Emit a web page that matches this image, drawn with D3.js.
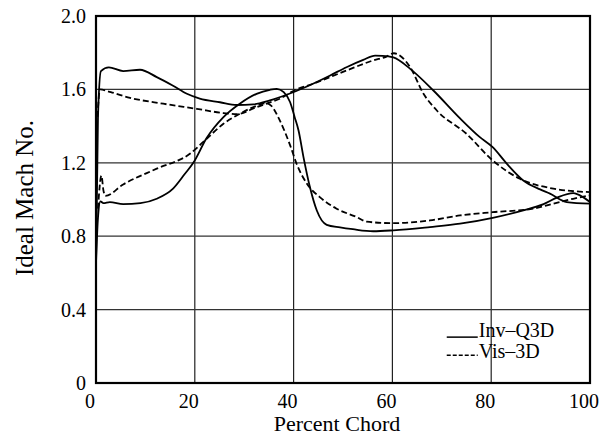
<!DOCTYPE html>
<html>
<head>
<meta charset="utf-8">
<script src="https://cdn.jsdelivr.net/npm/d3@7"></script>
<style>
  body { margin: 0; background: white; }
  text { font-family: "Liberation Serif", "Times New Roman", serif; fill: black; }
</style>
</head>
<body>
<div id="chart"></div>
<script>
// Percent chord vs ideal Mach number, [x, M] pairs
const invUpper = [[0,0.65],[0.4,1.45],[1.0,1.70],[2.6,1.72],[5.5,1.70],[8.9,1.707],[12.3,1.667],[15.6,1.62],[18.4,1.576],[21,1.55],[25.1,1.53],[28.5,1.515],[31.8,1.518],[35.2,1.54],[38.6,1.571],[42.7,1.616],[47.4,1.676],[50.7,1.721],[54.1,1.761],[56.5,1.784],[58,1.783],[60.2,1.774],[63.6,1.712],[68.3,1.594],[73.7,1.442],[77.7,1.34],[80.3,1.285],[83.1,1.197],[86.5,1.104],[89.9,1.055],[91.9,1.032],[95.3,0.986],[100,0.977]];
const invLower = [[0,0.65],[0.4,0.9],[0.9,0.99],[1.5,0.98],[2.8,0.986],[5.5,0.975],[9,0.98],[12.3,1.004],[15.6,1.059],[18,1.14],[19.7,1.2],[22.4,1.335],[25.8,1.449],[29.1,1.522],[32.5,1.576],[35.2,1.598],[36.6,1.603],[38,1.585],[39.3,1.53],[40.2,1.45],[41,1.376],[42,1.231],[43.3,1.068],[44.7,0.94],[46.7,0.862],[49.4,0.848],[52,0.838],[56.1,0.827],[60.2,0.832],[67.6,0.85],[73.7,0.868],[80.3,0.9],[86.5,0.941],[90.6,0.975],[93.3,1.01],[96.6,1.035],[98.6,1.013],[100,0.986]];
const visUpper = [[0.3,1.45],[0.8,1.6],[3,1.585],[6.9,1.554],[13.6,1.522],[20.4,1.494],[25.8,1.471],[28.5,1.465],[32.5,1.503],[34.8,1.525],[37.2,1.549],[40.1,1.594],[44,1.631],[50.7,1.703],[56.1,1.758],[58.8,1.779],[60.3,1.797],[63.6,1.721],[66.3,1.576],[69,1.485],[75,1.358],[80.3,1.213],[85.8,1.113],[92.6,1.059],[100,1.04]];
const visLower = [[0.4,0.95],[1.1,1.13],[1.5,1.05],[1.9,1.02],[5.5,1.082],[12.3,1.168],[19,1.249],[22.4,1.331],[25.8,1.413],[29.1,1.467],[32,1.505],[34.5,1.525],[35.5,1.51],[37.2,1.431],[39.3,1.295],[40.6,1.195],[42.7,1.086],[45.3,1.013],[48.7,0.95],[52.8,0.904],[54.8,0.879],[60.2,0.871],[67.6,0.886],[73.7,0.913],[80.3,0.931],[88.5,0.95],[92.6,0.977],[96.6,1.004],[100,1.022]];

const xTicks = [0, 20, 40, 60, 80, 100];
const yTicks = [0, 0.4, 0.8, 1.2, 1.6, 2.0];
const seriesNames = ['Inv\u2013Q3D', 'Vis\u20133D'];

const margin = { top: 16, right: 24, bottom: 55, left: 96 };
const width = 614 - margin.left - margin.right;
const height = 438 - margin.top - margin.bottom;

const svg = d3.select('#chart')
  .append('svg')
  .attr('width', 614)
  .attr('height', 438)
  .append('g')
  .attr('transform', `translate(${margin.left}, ${margin.top})`);

const xScale = d3.scaleLinear().domain([0, 100]).range([0, width]);
const yScale = d3.scaleLinear().domain([0, 2.0]).range([height, 0]);

// grid lines
svg.selectAll('.vgrid')
  .data(xTicks.slice(1, -1))
  .enter().append('line')
  .attr('x1', d => xScale(d)).attr('x2', d => xScale(d))
  .attr('y1', 0).attr('y2', height)
  .attr('stroke', '#222').attr('stroke-width', 1.2);

svg.selectAll('.hgrid')
  .data(yTicks.slice(1, -1))
  .enter().append('line')
  .attr('x1', 0).attr('x2', width)
  .attr('y1', d => yScale(d)).attr('y2', d => yScale(d))
  .attr('stroke', '#333').attr('stroke-width', 1.2);

// frame
svg.append('rect')
  .attr('width', width)
  .attr('height', height)
  .attr('fill', 'none')
  .attr('stroke', 'black')
  .attr('stroke-width', 2.2);

// tick labels
svg.selectAll('.xlab')
  .data(xTicks)
  .enter().append('text')
  .attr('x', d => xScale(d) - 6)
  .attr('y', height + 25)
  .attr('text-anchor', 'middle')
  .attr('font-size', '20px')
  .text(d => d);

svg.selectAll('.ylab')
  .data(yTicks)
  .enter().append('text')
  .attr('x', -10)
  .attr('y', d => yScale(d))
  .attr('dy', '0.35em')
  .attr('text-anchor', 'end')
  .attr('font-size', '20px')
  .text(d => d === 0 ? '0' : d.toFixed(1));

// axis titles
svg.append('text')
  .attr('x', width / 2 - 6)
  .attr('y', height + 48)
  .attr('text-anchor', 'middle')
  .attr('font-size', '22px')
  .text('Percent Chord');

svg.append('text')
  .attr('transform', 'rotate(-90)')
  .attr('x', -182)
  .attr('y', -63)
  .attr('text-anchor', 'middle')
  .attr('font-size', '25px')
  .text('Ideal Mach No.');

// curves
const line = d3.line()
  .x(d => xScale(d[0]))
  .y(d => yScale(d[1]))
  .curve(d3.curveMonotoneX);

[invUpper, invLower].forEach(s => {
  svg.append('path')
    .datum(s)
    .attr('fill', 'none')
    .attr('stroke', 'black')
    .attr('stroke-width', 1.8)
    .attr('d', line);
});

[visUpper, visLower].forEach(s => {
  svg.append('path')
    .datum(s)
    .attr('fill', 'none')
    .attr('stroke', 'black')
    .attr('stroke-width', 1.8)
    .attr('stroke-dasharray', '6,3')
    .attr('d', line);
});

// legend
const legend = svg.append('g')
  .attr('transform', `translate(${xScale(71)}, ${yScale(0.25)})`);

legend.selectAll('line')
  .data(seriesNames)
  .enter().append('line')
  .attr('x1', 0).attr('x2', 31)
  .attr('y1', (d, i) => i * 21 - (i ? 3 : 0))
  .attr('y2', (d, i) => i * 21 - (i ? 3 : 0))
  .attr('stroke', 'black')
  .attr('stroke-width', 1.5)
  .attr('stroke-dasharray', (d, i) => i ? '4,2' : null);

legend.selectAll('text')
  .data(seriesNames)
  .enter().append('text')
  .attr('x', 32)
  .attr('y', (d, i) => i * 21)
  .attr('font-size', '20px')
  .text(d => d);
</script>
</body>
</html>
